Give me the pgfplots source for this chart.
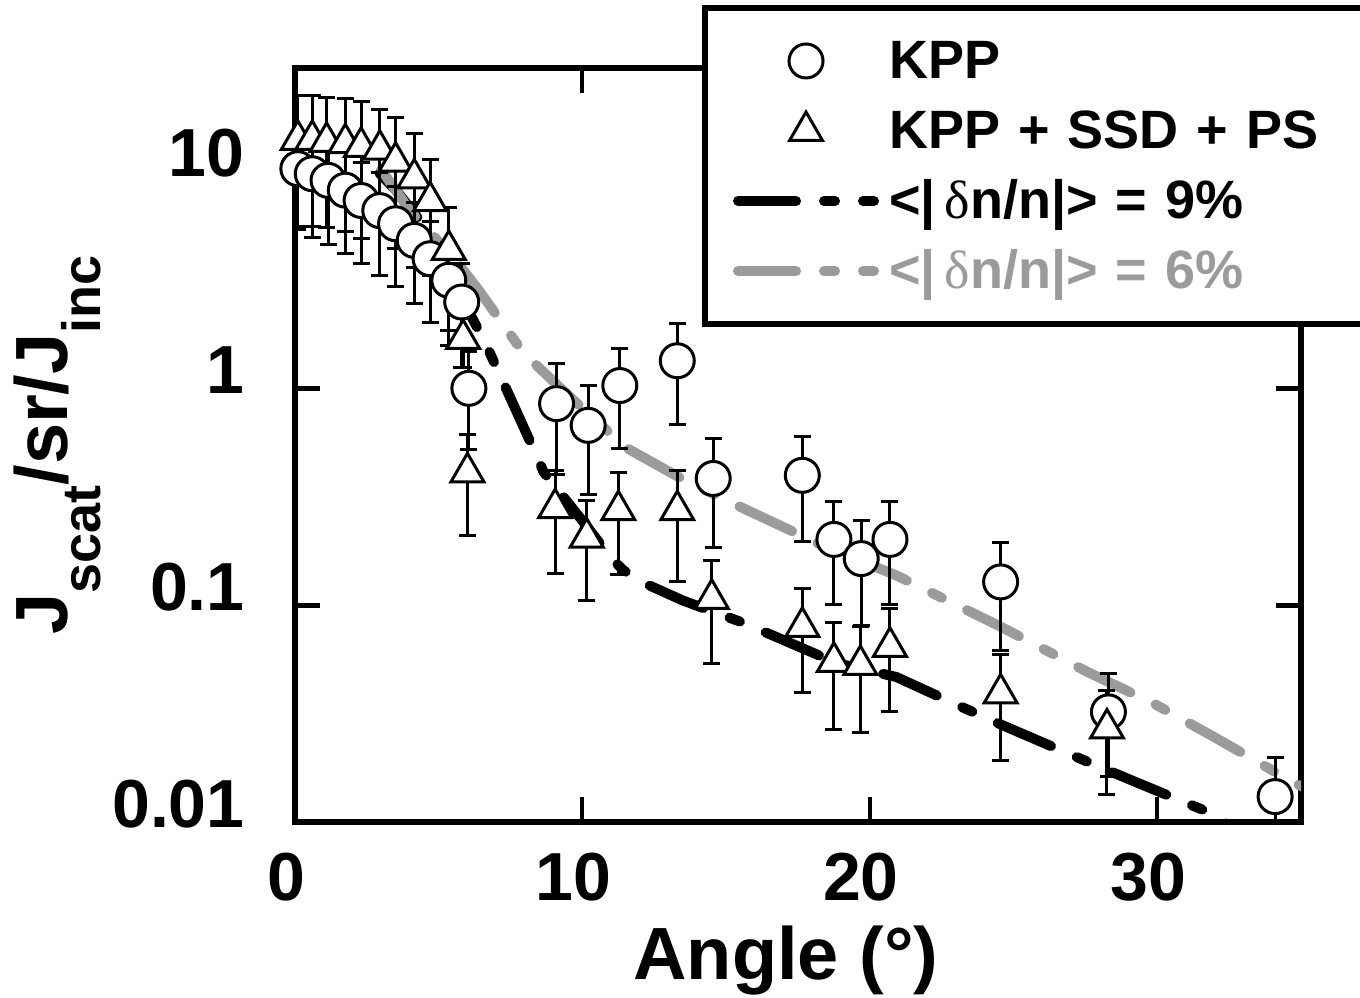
\documentclass[border=0pt]{standalone}
\usepackage{fontspec}
\setmainfont{Liberation Sans}
\newfontfamily\deltafont{Liberation Serif}
\usepackage{pgfplots}
\pgfplotsset{compat=1.18}
\definecolor{lgray}{RGB}{155,155,155}
\tikzset{
  blackdash/.style={black, line width=5pt, line cap=round, dash pattern=on 29pt off 14pt on 5.5pt off 14pt},
  graydash/.style={lgray, line width=5pt, line cap=round, dash pattern=on 29pt off 14pt on 5.5pt off 14pt},
}
\begin{document}
\begin{tikzpicture}
\path[use as bounding box] (-147.5pt,-87.5pt) rectangle (532.5pt,411pt);
\begin{axis}[
  scale only axis, width=503pt, height=377pt,
  at={(0pt,0pt)}, anchor=south west,
  xmin=0, xmax=35, ymode=log, ymin=0.01, ymax=30,
  xtick={0,10,20,30}, xticklabels={0,10,20,30},
  ytick={0.01,0.1,1,10}, yticklabels={0.01,0.1,1,10},
  yminorticks=false, xminorticks=false,
  tick align=inside, major tick length=12.5pt,
  xtick style={line width=2pt, black},
  ytick style={line width=2.5pt, black},
  axis line style={line width=3pt},
  ticklabel style={font=\bfseries\fontsize{34}{40}\selectfont, inner sep=0pt},
  xticklabel style={anchor=base, yshift=-39pt, xshift=-4.5pt},
  yticklabel style={anchor=base east, xshift=-25pt, yshift=-2.5pt},
  xlabel={Angle (°)},
  xlabel style={at={(axis description cs:0.488,-0.2095)}, anchor=base, font=\bfseries\fontsize{37}{44}\selectfont, inner sep=0pt},
  ylabel={J\raisebox{-16.5pt}{\fontsize{27}{30}\selectfont scat}/sr/J\raisebox{-16.5pt}{\fontsize{27}{30}\selectfont inc}},
  ylabel style={at={(axis description cs:-0.2266,0.5)}, anchor=base, rotate=0, font=\bfseries\fontsize{37}{44}\selectfont, inner sep=0pt},
  legend style={
    at={(axis description cs:0.4046,1.0836)}, anchor=north west,
    draw=black, line width=3pt, fill=white,
    inner xsep=14pt, inner ysep=13.5pt,
    row sep=9pt,
    font=\bfseries\fontsize{27}{32}\selectfont,
    nodes={inner xsep=5pt, inner ysep=0pt, text height=22pt, text depth=4pt, text width=240pt, anchor=west},
  },
  legend cell align=left,
  legend image code/.code={\draw[mark repeat=2,mark phase=2,#1] plot coordinates {(0pt,0pt) (34pt,0pt) (68pt,0pt)};},
]
% model curves
\addplot[blackdash, forget plot] coordinates {
(2.94,9.8) (3.52,8.17) (4.43,5.76) (5.5,3.1) (6.63,1.61) (7.61,0.835) (8.24,0.546) (8.65,0.411)
(10.0,0.245) (11.0,0.165) (11.42,0.145) (12.17,0.126) (13.5,0.105) (15.63,0.0826) (18.86,0.054)
(20.93,0.0466) (23.18,0.034) (24.6,0.028) (27.68,0.0187) (29.09,0.0156) (32.15,0.0106) (32.4,0.0098)
};
\addplot[graydash, forget plot] coordinates {
(3.0,10.2) (4.0,6.6) (4.90,4.9) (5.78,3.61) (6.40,2.83) (7.34,1.89) (7.96,1.45) (9.5,0.93) (11.49,0.535)
(13.5,0.38) (15.74,0.274) (18.3,0.19) (20.93,0.137) (24.6,0.079) (27.6,0.049) (29.86,0.0353)
(32.04,0.0244) (34.78,0.0151) (35.2,0.0143)
};
% KPP
\addplot[only marks, mark=*, mark size=8.5pt, line width=1.5pt,
  mark options={fill=white, draw=black, line width=1.5pt, solid},
  error bars/.cd, y dir=both, y explicit,
  error bar style={line width=1.5pt, black, solid},
  error mark options={rotate=90, mark size=4.25pt, line width=1.5pt, black}]
table[x=x, y=y, y error=e] {
x y e
0.1 10.3 4.9
0.6 9.76 4.8
1.15 9.1 4.5
1.75 8.2 4.0
2.3 7.35 3.6
2.95 6.6 3.3
3.5 5.74 2.8
4.15 4.81 2.36
4.7 3.96 1.95
5.35 3.15 1.57
5.8 2.5 1.25
6.05 1.0 0.48
9.1 0.85 0.45
10.2 0.675 0.35
11.3 1.03 0.5
13.3 1.34 0.66
14.55 0.384 0.2
17.65 0.397 0.2
18.75 0.201 0.1
19.7 0.164 0.083
20.7 0.201 0.1
24.55 0.128 0.066
28.3 0.0322 0.016
34.1 0.0131 0.0068
};
\addlegendentry{KPP}
% KPP + SSD + PS
\addplot[only marks, mark=triangle*, mark size=9.5pt, line width=1.5pt,
  mark options={fill=white, draw=black, line width=1.5pt, solid},
  error bars/.cd, y dir=both, y explicit,
  error bar style={line width=1.5pt, black, solid},
  error mark options={rotate=90, mark size=4.25pt, line width=1.5pt, black}]
table[x=x, y=y, y error=e] {
x y e
0.1 14.0 8.4
0.6 14.0 8.4
1.1 13.7 8.2
1.75 13.5 8.2
2.3 13.0 8.1
2.95 12.6 6.8
3.5 11.1 6.7
4.15 9.3 5.7
4.7 7.3 4.0
5.35 4.35 2.5
5.85 1.69 0.44
6.0 0.41 0.2
9.05 0.28 0.14
10.15 0.205 0.1
11.25 0.274 0.135
13.3 0.274 0.145
14.5 0.107 0.053
17.65 0.0795 0.04
18.75 0.0548 0.028
19.67 0.053 0.027
20.7 0.0643 0.032
24.55 0.0392 0.02
28.25 0.027 0.0136
};
\addlegendentry{KPP + SSD + PS}
\addlegendimage{blackdash}
\addlegendentry{<|\,{\mdseries\deltafont δ}n/n|> = 9\%}
\addlegendimage{graydash}
\addlegendentry{\textcolor{lgray}{<|\,{\mdseries\deltafont δ}n/n|> = 6\%}}
\end{axis}
\end{tikzpicture}
\end{document}
